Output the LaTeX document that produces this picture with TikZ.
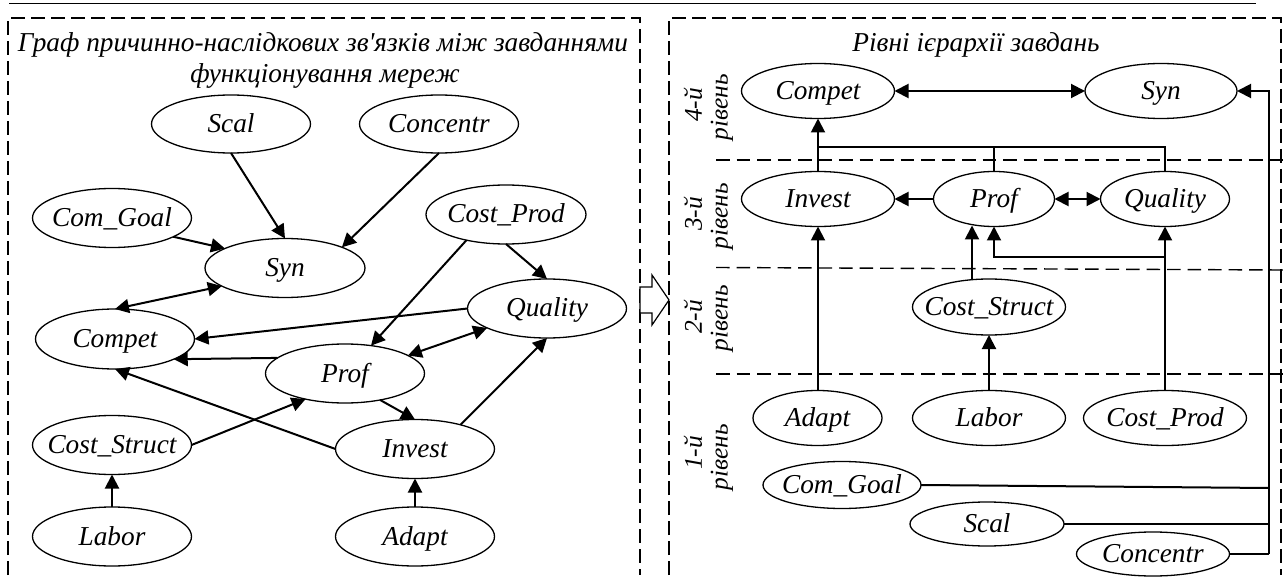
\documentclass[tikz,border=0pt]{standalone}
\usepackage{fontspec}
\newfontfamily\trm{Liberation Serif}
\usetikzlibrary{shapes.geometric,arrows.meta}
\tikzset{
  el/.style={ellipse,draw=black,line width=1.3pt,inner sep=0pt,outer sep=0pt,font=\trm\fontsize{27.3}{29}\selectfont\itshape},
  conn/.style={line width=2pt,draw=black},
  arr/.style={conn,-{Triangle[length=14pt,width=14pt]}},
  darr/.style={conn,{Triangle[length=14pt,width=14pt]}-{Triangle[length=14pt,width=14pt]}},
  frm/.style={line width=1.2pt,dash pattern=on 14pt off 6pt},
  lev/.style={line width=1.4pt,dash pattern=on 13.5pt off 7pt},
  ttl/.style={font=\trm\fontsize{27.3}{29}\selectfont\itshape,inner sep=0pt,anchor=base},
  lab/.style={font=\trm\fontsize{25.5}{27}\selectfont\itshape,rotate=90,inner sep=0pt},
}
\newcommand{\enode}[6]{\node[el,minimum width=#4pt,minimum height=#5pt] (#1) at (#2,#3) {\makebox[0pt]{\raisebox{-8.5pt}[0pt][0pt]{#6}}};}
\begin{document}
\begin{tikzpicture}[x=1pt,y=-1pt]
\useasboundingbox (0,0) rectangle (1283,580);
\draw[line width=1.8pt] (9,3.5) -- (1256,3.5);
\draw[frm] (8,575) -- (8,18) -- (640,18) -- (640,575);
\draw[frm] (669,575) -- (669,18) -- (1281,18) -- (1281,575);
\draw[lev] (716,160) -- (1283,160);
\draw[lev] (716,267.5) -- (1283,270);
\draw[lev] (716,374) -- (1283,374);
% left
\node[ttl] (t1) at (323,52) {Граф причинно-наслідкових зв'язків між завданнями};
\node[ttl] (t2) at (325,83) {функціонування мереж};
\enode{lscal}{231}{124}{159}{58}{Scal}
\enode{lconc}{439}{124}{159}{58}{Concentr}
\enode{lgoal}{112}{218}{159}{59}{Com\_Goal}
\enode{lcprod}{506}{214.5}{160}{59}{Cost\_Prod}
\enode{lsyn}{285}{268}{160}{59}{Syn}
\enode{lcomp}{115}{339}{159}{60}{Compet}
\enode{lqual}{547}{308.5}{159}{59}{Quality}
\enode{lprof}{345}{373.5}{159}{59}{Prof}
\enode{lcstr}{112}{445}{159}{59}{Cost\_Struct}
\enode{linv}{415}{449}{159}{59}{Invest}
\enode{llab}{112}{536.5}{159}{59}{Labor}
\enode{lada}{415}{536.5}{159}{59}{Adapt}
\draw[arr] (lscal.south) -- (lsyn.north);
\draw[arr] (lconc.south) -- (lsyn.20);
\draw[arr] (lgoal.-17.6) -- (lsyn.162.6);
\draw[darr] (lsyn.196) -- (lcomp.north);
\draw[arr] (lcprod.south) -- (lqual.north);
\draw[arr] (lcprod.213) -- (lprof.47.6);
\draw[arr] (lqual.west) -- (lcomp.east);
\draw[darr] (lprof.16.4) -- (lqual.198.3);
\draw[arr] (lprof.167.5) -- (lcomp.-19.6);
\draw[arr] (linv.west) -- (lcomp.south);
\draw[arr] (lcstr.east) -- (lprof.213.9);
\draw[arr] (lprof.-37.9) -- (linv.north);
\draw[arr] (linv.28) -- (lqual.south);
\draw[arr] (llab.north) -- (lcstr.south);
\draw[arr] (lada.north) -- (linv.south);
% block arrow
\draw[line width=1.2pt,fill=white,line join=miter] (640,287) -- (652,287) -- (652,275) -- (669,300) -- (652,325) -- (652,313) -- (640,313) -- cycle;
% right
\node[ttl] (t3) at (976,52) {Рівні ієрархії завдань};
\enode{rcomp}{818}{91}{153}{55}{Compet}
\enode{rsyn}{1161}{91}{152}{55}{Syn}
\enode{rinv}{818}{199}{153}{55}{Invest}
\enode{rprof}{994}{199}{121}{55}{Prof}
\enode{rqual}{1165}{199}{129}{55}{Quality}
\enode{rcstr}{989}{307}{153}{56}{Cost\_Struct}
\enode{rada}{817.5}{418}{129}{55}{Adapt}
\enode{rlab}{989}{418}{153}{55}{Labor}
\enode{rcprod}{1165}{418}{163}{55}{Cost\_Prod}
\enode{rgoal}{842}{485}{158}{47}{Com\_Goal}
\enode{rscal}{987}{524}{154}{44}{Scal}
\enode{rconc}{1153}{554}{153}{44}{Concentr}
\coordinate (tr1) at (1269,91);
\coordinate (tr2) at (1269,488);
\coordinate (tr3) at (1269,524);
\coordinate (tr4) at (1269,554);
\coordinate (b1) at (818,147);
\coordinate (b2) at (994,147);
\coordinate (b3) at (1165,147);
\coordinate (c1) at (1165,257);
\coordinate (c2) at (994,257);
\coordinate (c3) at (972,280);
\coordinate (c4) at (972,225.5);
\draw[darr] (rcomp) -- (rsyn);
\draw[arr] (rinv.north) -- (rcomp.south);
\draw[conn] (b1) -- (b3) -- (rqual.north);
\draw[conn] (b2) -- (rprof.north);
\draw[arr] (rprof.west) -- (rinv.east);
\draw[darr] (rprof.east) -- (rqual.west);
\draw[arr] (rada.north -| rinv) -- (rinv.south);
\draw[arr] (c3) -- (c4);
\draw[arr] (rcprod.north) -- (rqual.south);
\draw[arr] (c1) -- (c2) -- (rprof.south);
\draw[arr] (rlab.north) -- (rcstr.south);
\draw[arr] (tr4) -- (tr1) -- (rsyn.east);
\draw[conn] (rgoal.east) -- (tr2);
\draw[conn] (rscal.east) -- (tr3);
\draw[conn] (rconc.east) -- (tr4);
% level labels
\node[lab] (l4a) at (693,105) {4-й};
\node[lab] (l4b) at (722,107) {рівень};
\node[lab] (l3a) at (693,214) {3-й};
\node[lab] (l3b) at (722,216) {рівень};
\node[lab] (l2a) at (693,317) {2-й};
\node[lab] (l2b) at (722,318) {рівень};
\node[lab] (l1a) at (693,453) {1-й};
\node[lab] (l1b) at (722,457) {рівень};
\end{tikzpicture}
\end{document}
